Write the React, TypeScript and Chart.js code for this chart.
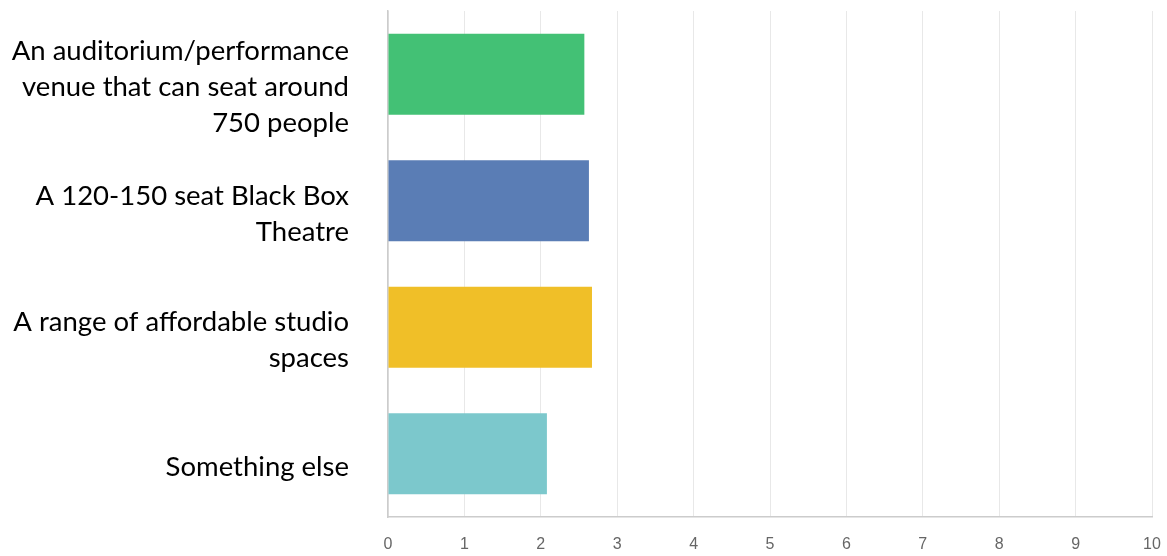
import React, { useEffect, useRef } from "react";
import { Chart, registerables } from "chart.js";

Chart.register(...registerables);

const categories: string[][] = [
  ["An auditorium/performance", "venue that can seat around", "750 people"],
  ["A 120-150 seat Black Box", "Theatre"],
  ["A range of affordable studio", "spaces"],
  ["Something else"],
];
const values: number[] = [2.57, 2.63, 2.67, 2.08];
const barColors: string[] = ["#43c175", "#5a7db5", "#f0bf28", "#7cc8cc"];
const xMin = 0;
const xMax = 10;

export default function App() {
  const ref = useRef<HTMLCanvasElement | null>(null);
  useEffect(() => {
    if (!ref.current) return;
    const chart = new Chart(ref.current, {
      type: "bar",
      data: {
        labels: categories,
        datasets: [
          {
            data: values,
            backgroundColor: barColors,
            borderWidth: 0,
            categoryPercentage: 0.64,
            barPercentage: 1,
          },
        ],
      },
      options: {
        indexAxis: "y",
        animation: false,
        responsive: true,
        maintainAspectRatio: false,
        layout: { padding: { top: 11, right: 15, left: 0, bottom: 0 } },
        plugins: { legend: { display: false }, tooltip: { enabled: false } },
        scales: {
          x: {
            min: xMin,
            max: xMax,
            ticks: {
              stepSize: 1,
              padding: 18,
              color: "#666",
              font: { family: "'Liberation Sans', Arial, sans-serif", size: 16 },
            },
            grid: { color: "#e8e8e8", drawTicks: false },
            border: { color: "#cccccc", width: 1.5 },
            afterFit: (s: any) => {
              s.height = 39;
              s.paddingLeft = 0;
              s.paddingRight = 0;
            },
          },
          y: {
            ticks: {
              padding: 39,
              labelOffset: 13,
              color: "#000",
              font: { family: "Lato, 'Open Sans', sans-serif", size: 27.5, lineHeight: 1.3 },
            },
            grid: { display: false, drawTicks: false },
            border: { color: "#cccccc", width: 1.5 },
            afterFit: (s: any) => {
              s.width = 388;
              s.paddingTop = 0;
              s.paddingBottom = 0;
            },
          },
        },
      },
    });
    return () => chart.destroy();
  }, []);
  return (
    <div style={{ position: "fixed", left: 0, top: 0, width: 1167, height: 556, background: "#fff" }}>
      <canvas ref={ref} />
    </div>
  );
}
